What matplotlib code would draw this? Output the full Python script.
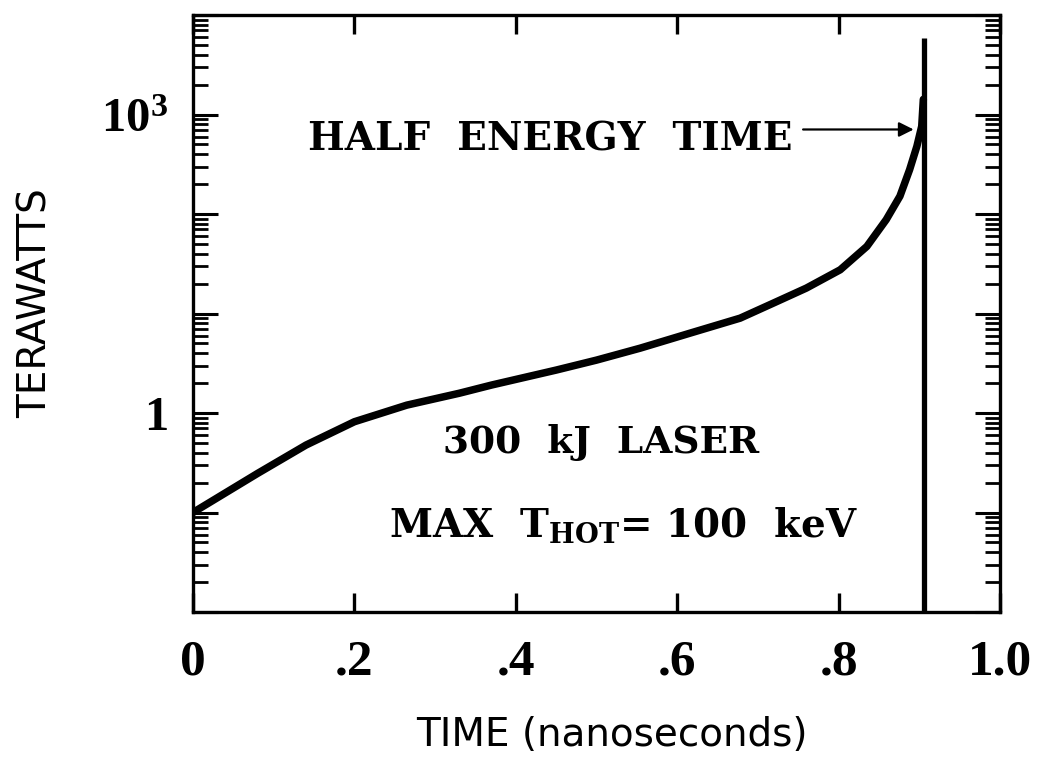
import matplotlib
matplotlib.use("Agg")
import matplotlib.pyplot as plt
from matplotlib.ticker import FixedLocator, FuncFormatter, LogLocator, NullFormatter

# ---- data ----
time_ns = [0.0, 0.08, 0.14, 0.20, 0.265, 0.33, 0.37, 0.45, 0.50, 0.554, 0.616,
           0.678, 0.719, 0.76, 0.802, 0.835, 0.859, 0.876, 0.888, 0.897, 0.903,
           0.905]
power_tw = [0.10, 0.247, 0.476, 0.817, 1.20, 1.58, 1.91, 2.7, 3.4, 4.48, 6.35,
            8.98, 12.7, 18.0, 27.5, 47.2, 87.7, 151.0, 279.0, 479.0, 762.0,
            1420.0]
half_energy_time = 0.906
half_line_top = 5900.0
arrow_y = 707.0

x_ticks = [0, 0.2, 0.4, 0.6, 0.8, 1.0]
x_tick_labels = ["0", ".2", ".4", ".6", ".8", "1.0"]
y_decades = [1e-2, 1e-1, 1, 10, 100, 1e3, 1e4]
y_labels = {1: "1", 1000: r"$\mathbf{10^{3}}$"}

plt.rcParams["mathtext.fontset"] = "custom"
plt.rcParams["mathtext.bf"] = "Liberation Serif:bold"
plt.rcParams["mathtext.rm"] = "DejaVu Serif:bold"
plt.rcParams["mathtext.it"] = "DejaVu Serif:bold"

fig = plt.figure(figsize=(10.41, 7.58), dpi=100)
ax = fig.add_axes([193/1041, 1-612/758, (1000-193)/1041, (612-15)/758])

ax.set_yscale("log")
ax.set_xlim(0, 1.0)
ax.set_ylim(1e-2, 1e4)

ax.plot(time_ns, power_tw, color="black", lw=5.4, solid_capstyle="round",
        solid_joinstyle="round")
ax.vlines(half_energy_time, 1e-2, half_line_top, color="black", lw=3.8)

ax.annotate("", xy=(0.893, arrow_y), xytext=(0.756, arrow_y),
            arrowprops=dict(arrowstyle="-|>", lw=1.6, color="black",
                            mutation_scale=22, shrinkA=0, shrinkB=0))

for s in ax.spines.values():
    s.set_linewidth(2.4)

# ticks
ax.xaxis.set_major_locator(FixedLocator(x_ticks))
ax.set_xticklabels(x_tick_labels, fontfamily="Liberation Serif",
                   fontweight="bold", fontsize=37)
ax.tick_params(axis="x", which="major", direction="in", length=14, width=2.4,
               top=True, bottom=True, pad=20)

ax.yaxis.set_major_locator(FixedLocator(y_decades))
ax.yaxis.set_major_formatter(FuncFormatter(lambda v, p: y_labels.get(int(round(v)) if v >= 1 else -1, "")))
ax.yaxis.set_minor_locator(LogLocator(base=10, subs=range(2, 10), numticks=20))
ax.yaxis.set_minor_formatter(NullFormatter())
ax.tick_params(axis="y", which="major", direction="in", length=18, width=2.2,
               left=True, right=True, pad=18, labelsize=35)
ax.tick_params(axis="y", which="minor", direction="in", length=11, width=2.0,
               left=True, right=True)
for lab in ax.get_yticklabels():
    lab.set_fontfamily("Liberation Serif")
    lab.set_fontweight("bold")

# annotations
ax.text(0.743, 560, "HALF  ENERGY  TIME", ha="right", va="center",
        fontfamily="DejaVu Serif", fontweight="bold", fontsize=28)
ax.text(0.506, 0.5, "300  kJ  LASER", ha="center", va="center",
        fontfamily="DejaVu Serif", fontweight="bold", fontsize=27)
ax.text(0.534, 0.075, r"MAX  T$_{\mathrm{HOT}}$= 100  keV", ha="center",
        va="center", fontfamily="DejaVu Serif", fontweight="bold", fontsize=28)

fig.text(612/1041, 1-735/758, "TIME (nanoseconds)", ha="center", va="center",
         fontfamily="DejaVu Sans", fontsize=28)
fig.text(36/1041, 1-303/758, "TERAWATTS", ha="center", va="center",
         rotation=90, fontfamily="DejaVu Sans", fontsize=28)

fig.savefig("out.png", dpi=100, facecolor="white")
